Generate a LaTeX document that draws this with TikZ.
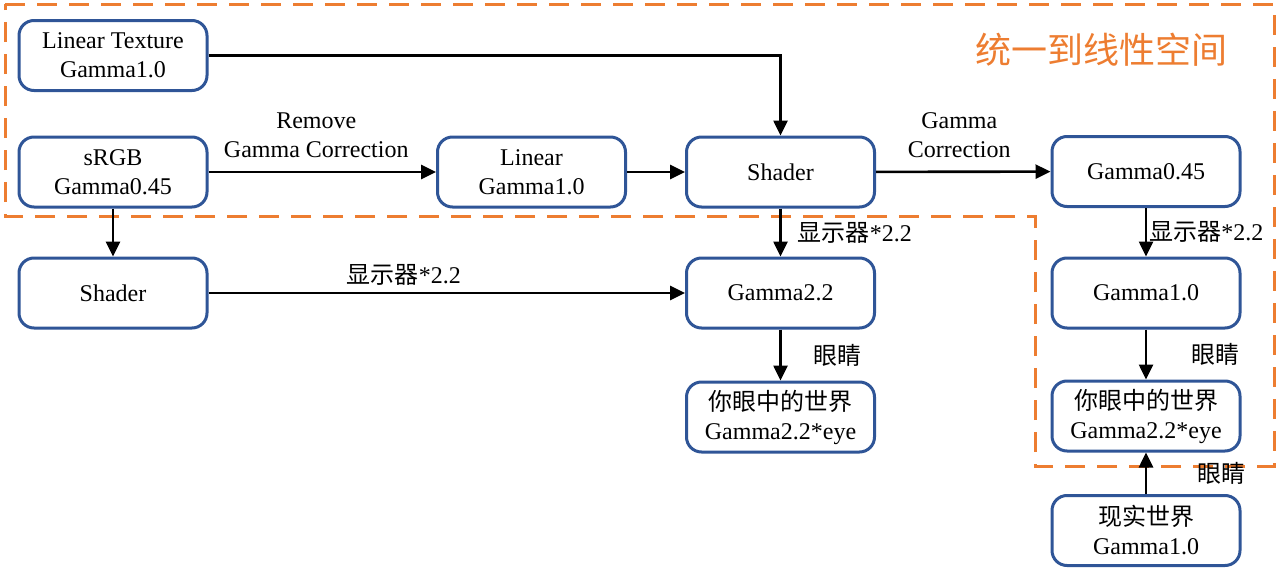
\documentclass[tikz,border=0pt]{standalone}
\usepackage{fontspec}
\setmainfont{Liberation Serif}
\newfontfamily\cjk{Noto Sans CJK SC}
\usepackage{tikz}
\usetikzlibrary{arrows.meta, positioning, calc}
\definecolor{boxblue}{RGB}{47,85,151}
\definecolor{zoneorange}{RGB}{237,125,49}

\begin{document}
\begin{tikzpicture}[
    x=0.5pt, y=-0.5pt,
    >={Triangle[length=7.5pt, width=7pt]},
    stage/.style={draw=boxblue, line width=1.5pt, rounded corners=7.5pt, fill=white,
        minimum width=94pt, minimum height=35pt, inner sep=2pt, align=center,
        font=\fontsize{12}{14.5}\selectfont},
    flow/.style={->, line width=1.3pt},
    lab/.style={font=\fontsize{12}{14.5}\selectfont, align=center},
    cjklab/.style={font=\fontsize{12}{14}\selectfont\cjk, inner sep=1pt},
    zone/.style={draw=zoneorange, line width=1.5pt, dash pattern=on 10pt off 6pt},
]
    \useasboundingbox (0,0) rectangle (1281,573);

    % linear space region
    \draw[zone] (5,4) -- (1274,4) -- (1274,466) -- (1035,466) -- (1035,216) -- (5,216) -- cycle;
    \node[font=\fontsize{18}{20}\selectfont\cjk, text=zoneorange] (zonetitle) at (1101,50) {统一到线性空间};

    \node[stage] (tex) at (113,55.5) {Linear Texture\\Gamma1.0};
    \node[stage] (srgb) at (113,172) {sRGB\\Gamma0.45};
    \node[stage] (lin) at (531.5,172) {Linear\\Gamma1.0};
    \node[stage] (shd) at (780.5,172) {Shader};
    \node[stage] (g045) at (1146,171.5) {Gamma0.45};
    \node[stage] (shdl) at (113,293) {Shader};
    \node[stage] (g22) at (780.5,293) {Gamma2.2};
    \node[stage] (eyel) at (780.5,417) {{\cjk\fontsize{12}{14.5}\selectfont 你眼中的世界}\\Gamma2.2*eye};
    \node[stage] (g10) at (1146,293) {Gamma1.0};
    \node[stage] (eyer) at (1146,416) {{\cjk\fontsize{12}{14.5}\selectfont 你眼中的世界}\\Gamma2.2*eye};
    \node[stage] (real) at (1146,530.5) {{\cjk\fontsize{12}{14.5}\selectfont 现实世界}\\Gamma1.0};

    \draw[flow] (tex.east) -- (tex.east -| shd.north) -- (shd.north);
    \draw[flow] (srgb) -- node[lab, above=3pt, xshift=-3pt] {Remove\\Gamma Correction} (lin);
    \draw[flow] (lin) -- (shd);
    \draw[flow] (shd) -- node[lab, above=3pt, xshift=-2pt] {Gamma\\Correction} (g045);
    \draw[flow] (srgb) -- (shdl);
    \draw[flow] (shdl) -- node[cjklab, above=2pt, pos=0.41] {显示器\fontspec{Liberation Serif}*2.2} (g22);
    \draw[flow] (shd) -- node[cjklab, right=7pt] {显示器\fontspec{Liberation Serif}*2.2} (g22);
    \draw[flow] (g22) -- node[cjklab, right=15pt] {眼睛} (eyel);
    \draw[flow] (g045) -- node[cjklab, right=0pt] {显示器\fontspec{Liberation Serif}*2.2} (g10);
    \draw[flow] (g10) -- node[cjklab, right=21pt] {眼睛} (eyer);
    \draw[flow] (real) -- node[cjklab, right=24pt] {眼睛} (eyer);
\end{tikzpicture}
\end{document}
